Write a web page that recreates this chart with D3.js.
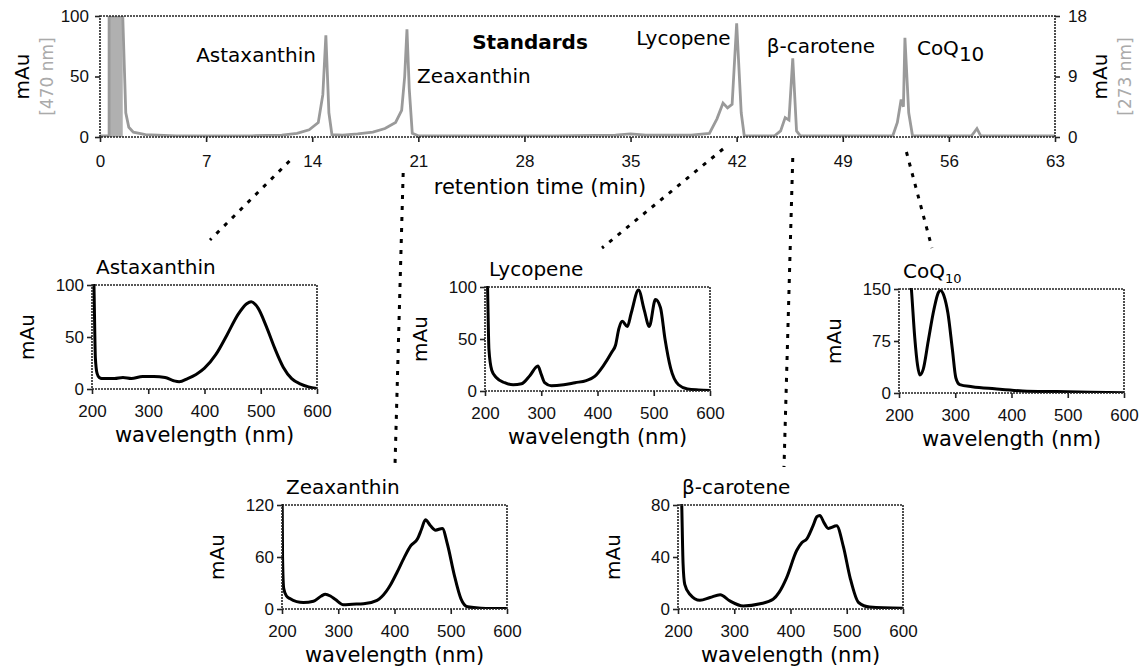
<!DOCTYPE html>
<html>
<head>
<meta charset="utf-8">
<script src="https://cdn.jsdelivr.net/npm/d3@7"></script>
<style>
  body { margin: 0; background: #fff; }
  svg { font-family: "DejaVu Sans", Verdana, sans-serif; }
</style>
</head>
<body>
<div id="chart"></div>
<script>

// ---- chromatogram (retention time in min, mAu at 470 nm) ----
var timeTicks = [0, 7, 14, 21, 28, 35, 42, 49, 56, 63];
var leftTicks = [0, 50, 100];
var rightTicks = [0, 9, 18];
var solventFront = [0.6, 1.5];
var chromatogram = [
  [0, 1], [0.6, 1], [0.6, 100], [1.5, 100], [1.7, 20], [1.9, 8], [2.2, 4], [3, 2], [5, 1],
  [10, 1], [12, 1.5], [13, 3], [13.8, 6], [14.4, 12], [14.7, 35], [14.9, 84], [15.1, 20],
  [15.3, 2], [16, 1.5], [17, 2.5], [18, 4], [18.8, 7], [19.5, 12], [19.9, 22], [20.1, 50],
  [20.25, 89], [20.4, 40], [20.6, 3], [21, 1], [25, 1], [30, 1], [34, 1.5], [35, 2.5],
  [36, 1.5], [39, 1.5], [40.2, 3], [40.7, 15], [41.1, 28], [41.4, 24], [41.7, 27],
  [42.0, 94], [42.3, 20], [42.5, 1], [44.5, 1], [44.9, 5], [45.2, 16], [45.45, 14],
  [45.7, 65], [45.95, 5], [46.2, 1], [52.3, 1], [52.6, 12], [52.85, 31], [53.0, 25],
  [53.1, 82], [53.35, 20], [53.6, 1], [57.5, 1], [57.85, 7], [58.1, 1], [63, 1]
];
var peakNames = ["Astaxanthin", "Zeaxanthin", "Lycopene", "β-carotene", "CoQ"];
var peakTimes = [14.9, 20.25, 42.0, 45.7, 53.1];

// ---- UV/Vis spectra (wavelength in nm, mAu) ----
var wavelengthTicks = [200, 300, 400, 500, 600];
var astaxanthin = [
  [200, 130], [203, 110], [206, 30], [209, 15], [213, 11], [220, 10], [240, 10], [255, 11],
  [270, 10], [290, 12], [310, 12], [330, 11], [345, 8], [355, 7], [370, 10], [385, 14],
  [400, 20], [420, 33], [440, 52], [460, 72], [475, 82], [483, 84], [495, 78], [510, 60],
  [525, 39], [540, 21], [555, 10], [570, 5], [585, 2], [600, 0.5]
];
var zeaxanthin = [
  [200, 160], [201, 60], [203, 24], [208, 15], [214, 12], [226, 8.5], [238, 7.5], [256, 9],
  [270, 15], [277, 17], [286, 15], [295, 11], [309, 5], [325, 5.5], [345, 6], [369, 10],
  [385, 20], [393, 28], [405, 43], [417, 59], [429, 73], [441, 81], [448, 92], [455, 103],
  [464, 96], [473, 91], [485, 93], [494, 75], [506, 40], [518, 12], [530, 2.5], [554, 1],
  [600, 0.5]
];
var lycopene = [
  [200, 130], [204, 110], [207, 40], [212, 20], [220, 13], [235, 8], [250, 6], [265, 7],
  [280, 15], [294, 24], [300, 16], [306, 8], [318, 5], [340, 6], [360, 8], [380, 10],
  [395, 14], [410, 24], [425, 37], [432, 44], [438, 60], [444, 67], [453, 62], [460, 75],
  [473, 97], [483, 78], [492, 62], [503, 88], [512, 80], [520, 50], [530, 22], [544, 6],
  [560, 2], [580, 1], [600, 0.5]
];
var betaCarotene = [
  [200, 120], [206, 90], [209, 35], [212, 19], [221, 11.4], [239, 6.7], [257, 8.8],
  [275, 10.9], [292, 6.2], [316, 2.3], [346, 4], [369, 7.5], [380, 13], [393, 24],
  [411, 45], [420, 51], [429, 54], [440, 64], [447, 71], [452, 72], [460, 66], [467, 62],
  [482, 64], [494, 48], [506, 24], [521, 5], [541, 1.5], [600, 0.5]
];
var coq10 = [
  [200, 320], [215, 210], [222, 150], [228, 80], [233, 40], [237, 26], [243, 34], [252, 75],
  [262, 120], [270, 145], [274, 148], [280, 140], [287, 115], [295, 62], [301, 22],
  [308, 12], [330, 9], [370, 6], [420, 3], [480, 2], [540, 1], [600, 0.5]
];
var spectraMax = [100, 120, 100, 80, 150];
var spectraTicks = [[0, 50, 100], [0, 60, 120], [0, 50, 100], [0, 40, 80], [0, 75, 150]];

// ---- layout ----
var W = 1141, H = 670;
var chrom = {left: 100, right: 1055, top: 16, bottom: 137};
var panels = [
  {name: "Astaxanthin", data: astaxanthin, left: 92, top: 285},
  {name: "Zeaxanthin", data: zeaxanthin, left: 282, top: 505},
  {name: "Lycopene", data: lycopene, left: 485, top: 287},
  {name: "β-carotene", data: betaCarotene, left: 678, top: 505},
  {name: "CoQ", data: coq10, left: 899, top: 289}
];
var panelW = 225, panelH = 104;
// peak label placement (dx from the peak, baseline y) and connector start
var labelPos = [
  {dx: -10, y: 62, anchor: "end"},
  {dx: 10, y: 83, anchor: "start"},
  {dx: -6, y: 45, anchor: "end"},
  {dx: -26, y: 53, anchor: "start"},
  {dx: 12, y: 55, anchor: "start"}
];
var connStart = [[12.5, 161], [20.0, 173], [41.1, 149], [45.7, 158], [53.2, 152]];
var connEnd = [[118, -45], [113, -40], [117, -39], [106, -38], [33, -41]];

var frameStyle = function(sel) {
  sel.attr("fill", "none").attr("stroke", "#222").attr("stroke-width", 1.6)
     .attr("stroke-dasharray", "2,1");
};

var svg = d3.select("#chart").append("svg")
  .attr("width", W).attr("height", H);

// ---- top chromatogram ----
var x = d3.scaleLinear().domain([0, 63]).range([chrom.left, chrom.right]);
var yL = d3.scaleLinear().domain([0, 100]).range([chrom.bottom, chrom.top]);
var yR = d3.scaleLinear().domain([0, 18]).range([chrom.bottom, chrom.top]);

svg.append("clipPath").attr("id", "clip-chrom")
  .append("rect")
    .attr("x", x(0)).attr("y", yL(100))
    .attr("width", x(63) - x(0)).attr("height", yL(0) - yL(100));

svg.append("rect")
  .attr("x", x(solventFront[0])).attr("y", yL(100))
  .attr("width", x(solventFront[1]) - x(solventFront[0]))
  .attr("height", yL(0) - yL(100))
  .attr("fill", "#b0b0b0");

svg.append("path")
  .datum(chromatogram)
  .attr("clip-path", "url(#clip-chrom)")
  .attr("fill", "none")
  .attr("stroke", "#9a9a9a")
  .attr("stroke-width", 2.8)
  .attr("d", d3.line().x(function(d) { return x(d[0]); }).y(function(d) { return yL(d[1]); }));

svg.append("rect")
  .attr("x", x(0)).attr("y", yL(100))
  .attr("width", x(63) - x(0)).attr("height", yL(0) - yL(100))
  .call(frameStyle);

var axB = svg.append("g")
  .attr("transform", "translate(0," + chrom.bottom + ")")
  .call(d3.axisBottom(x).tickValues(timeTicks).tickSize(5).tickPadding(13));
var axL = svg.append("g")
  .attr("transform", "translate(" + chrom.left + ",0)")
  .call(d3.axisLeft(yL).tickValues(leftTicks).tickSize(5).tickPadding(6));
var axR = svg.append("g")
  .attr("transform", "translate(" + chrom.right + ",0)")
  .call(d3.axisRight(yR).tickValues(rightTicks).tickSize(5).tickPadding(8));

[axB, axL, axR].forEach(function(g) {
  g.select(".domain").remove();
  g.selectAll("text").attr("font-size", 17).attr("font-family", null).attr("fill", "#111");
  g.selectAll("line").attr("stroke", "#222").attr("stroke-width", 1.6);
});

svg.append("text")
  .attr("x", 540).attr("y", 194)
  .attr("text-anchor", "middle").attr("font-size", 21)
  .text("retention time (min)");

svg.append("text")
  .attr("x", 530).attr("y", 49)
  .attr("text-anchor", "middle").attr("font-size", 20).attr("font-weight", "bold")
  .text("Standards");

// axis titles, left and right
var midY = (chrom.top + chrom.bottom) / 2;
svg.append("text")
  .attr("transform", "translate(29," + midY + ") rotate(-90)")
  .attr("text-anchor", "middle").attr("font-size", 20).text("mAu");
svg.append("text")
  .attr("transform", "translate(53," + midY + ") rotate(-90)")
  .attr("text-anchor", "middle").attr("font-size", 17).attr("fill", "#aaa").text("[470 nm]");
svg.append("text")
  .attr("transform", "translate(1107," + midY + ") rotate(-90)")
  .attr("text-anchor", "middle").attr("font-size", 20).text("mAu");
svg.append("text")
  .attr("transform", "translate(1131," + midY + ") rotate(-90)")
  .attr("text-anchor", "middle").attr("font-size", 17).attr("fill", "#aaa").text("[273 nm]");

// peak labels
peakNames.forEach(function(name, i) {
  var t = svg.append("text")
    .attr("x", x(peakTimes[i]) + labelPos[i].dx)
    .attr("y", labelPos[i].y)
    .attr("text-anchor", labelPos[i].anchor)
    .attr("font-size", 20)
    .text(name);
  if (name === "CoQ") {
    t.append("tspan").attr("dy", 6).text("10");
  }
});

// ---- spectra panels ----
panels.forEach(function(p, i) {
  var px = d3.scaleLinear().domain([200, 600]).range([p.left, p.left + panelW]);
  var py = d3.scaleLinear().domain([0, spectraMax[i]]).range([p.top + panelH, p.top]);
  var g = svg.append("g");

  g.append("clipPath").attr("id", "clip-" + i)
    .append("rect")
      .attr("x", p.left).attr("y", p.top - 1)
      .attr("width", panelW).attr("height", panelH + 1);

  g.append("path")
    .datum(p.data)
    .attr("clip-path", "url(#clip-" + i + ")")
    .attr("fill", "none")
    .attr("stroke", "#000")
    .attr("stroke-width", 3)
    .attr("stroke-linejoin", "round")
    .attr("d", d3.line().curve(d3.curveMonotoneX)
      .x(function(d) { return px(d[0]); })
      .y(function(d) { return py(d[1]); }));

  g.append("rect")
    .attr("x", p.left).attr("y", p.top)
    .attr("width", panelW).attr("height", panelH)
    .call(frameStyle);

  var ax = g.append("g")
    .attr("transform", "translate(0," + (p.top + panelH) + ")")
    .call(d3.axisBottom(px).tickValues(wavelengthTicks).tickSize(5).tickPadding(11));
  var ay = g.append("g")
    .attr("transform", "translate(" + p.left + ",0)")
    .call(d3.axisLeft(py).tickValues(spectraTicks[i]).tickSize(5).tickPadding(3));
  [ax, ay].forEach(function(a) {
    a.select(".domain").remove();
    a.selectAll("text").attr("font-size", 17).attr("font-family", null).attr("fill", "#111");
    a.selectAll("line").attr("stroke", "#222").attr("stroke-width", 1.6);
  });

  g.append("text")
    .attr("x", p.left + panelW / 2).attr("y", p.top + panelH + 53)
    .attr("text-anchor", "middle").attr("font-size", 21)
    .text("wavelength (nm)");

  g.append("text")
    .attr("transform", "translate(" + (p.left - 58) + "," + (p.top + panelH / 2) + ") rotate(-90)")
    .attr("text-anchor", "middle").attr("font-size", 20)
    .text("mAu");

  var title = g.append("text")
    .attr("x", p.left + 4).attr("y", p.top - 11)
    .attr("font-size", 20)
    .text(p.name);
  if (p.name === "CoQ") {
    title.append("tspan").attr("dy", 5).attr("font-size", 13).text("10");
  }

  // dashed connector from the chromatogram to the panel title
  svg.append("line")
    .attr("x1", x(connStart[i][0])).attr("y1", connStart[i][1])
    .attr("x2", p.left + connEnd[i][0]).attr("y2", p.top + connEnd[i][1])
    .attr("stroke", "#000").attr("stroke-width", 3)
    .attr("stroke-dasharray", "4,7");
});

</script>
</body>
</html>
